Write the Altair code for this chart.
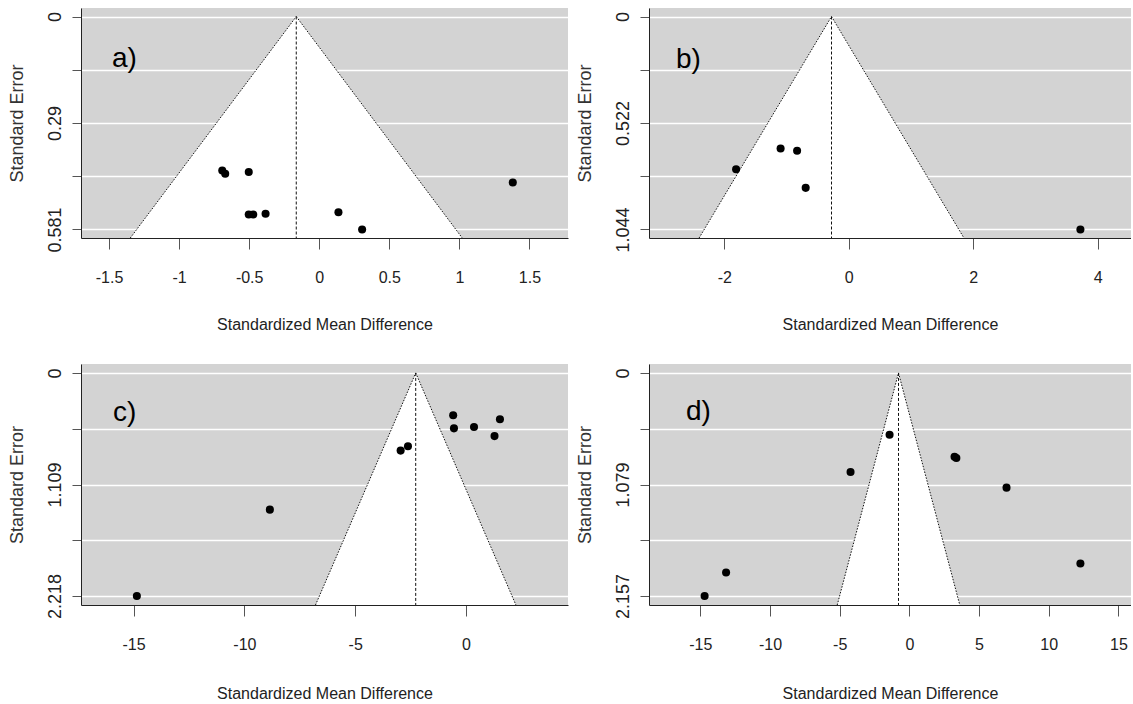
import altair as alt
import pandas as pd

FONT = "Liberation Sans"

# ---- data ----
tags = ["a)", "b)", "c)", "d)"]

a_smd = [-0.692, -0.671, -0.503, -0.503, -0.471, -0.383, 0.137, 0.306, 1.381]
a_se = [0.420, 0.429, 0.424, 0.540, 0.540, 0.538, 0.534, 0.581, 0.453]

b_smd = [-1.81, -1.095, -0.83, -0.692, 3.723]
b_se = [0.749, 0.647, 0.658, 0.840, 1.044]

c_smd = [-14.85, -8.85, -2.95, -2.62, -0.58, -0.545, 0.36, 1.285, 1.53]
c_se = [2.218, 1.359, 0.772, 0.728, 0.421, 0.551, 0.538, 0.628, 0.461]

d_smd = [-14.69, -13.15, -4.22, -1.42, 3.24, 3.37, 6.97, 12.27]
d_se = [2.157, 1.929, 0.958, 0.598, 0.81, 0.823, 1.109, 1.842]

pooled = [-0.164, -0.277, -2.27, -0.78]
se_max = [0.581, 1.044, 2.218, 2.157]
se_labels = [
    ["0", "", "0.29", "", "0.581"],
    ["0", "", "0.522", "", "1.044"],
    ["0", "", "1.109", "", "2.218"],
    ["0", "", "1.079", "", "2.157"],
]
x_domains = [[-1.70, 1.775], [-3.21, 4.536], [-17.37, 4.6], [-18.68, 15.9]]
x_ticks = [
    [-1.5, -1, -0.5, 0, 0.5, 1, 1.5],
    [-2, 0, 2, 4],
    [-15, -10, -5, 0],
    [-15, -10, -5, 0, 5, 10, 15],
]

# ---- layout ----
LEFT_W, RIGHT_W = 487, 482
ROW1_H, ROW2_H = 230, 241
widths = [LEFT_W, RIGHT_W, LEFT_W, RIGHT_W]
heights = [ROW1_H, ROW1_H, ROW2_H, ROW2_H]
title_ys = [91, 91, 93, 93]
tag_pos = [(31, 59), (27, 60), (32, 57), (37, 56)]

series = [(a_smd, a_se), (b_smd, b_se), (c_smd, c_se), (d_smd, d_se)]


def panel(i):
    smd, se = series[i]
    mu = pooled[i]
    smax = se_max[i]
    lo_d, hi_d = -0.04 * smax, 1.04 * smax
    w, h = widths[i], heights[i]

    xscale = alt.Scale(domain=x_domains[i], nice=False, zero=False)
    yscale = alt.Scale(domain=[lo_d, hi_d], nice=False, zero=False, reverse=True)

    xaxis = alt.Axis(
        values=x_ticks[i], labelExpr="'' + datum.value", grid=False,
        tickSize=11, tickColor="#555555", tickWidth=1,
        domainColor="#222222", domainWidth=1,
        labelFont=FONT, labelFontSize=16, labelColor="#222222",
        labelPadding=33, labelBaseline="alphabetic",
        labelFlush=False, labelOverlap=False,
        titleFont=FONT, titleFontSize=16, titleFontWeight="normal",
        titleColor="#222222", titleX=w / 2, titleY=title_ys[i],
        titleBaseline="alphabetic", titleAlign="center", zindex=1,
    )
    step = smax / 4
    labs = "[" + ",".join("'%s'" % s for s in se_labels[i]) + "]"
    yaxis = alt.Axis(
        values=[0, step, 2 * step, 3 * step, smax],
        labelExpr=labs + "[round(datum.value / %r)]" % step,
        grid=True, gridColor="white", gridWidth=1.5,
        tickSize=9, tickColor="#555555", tickWidth=1,
        domainColor="#222222", domainWidth=1,
        labelFont=FONT, labelFontSize=18, labelColor="#222222",
        labelAngle=270, labelAlign="center", labelBaseline="alphabetic",
        labelPadding=12, labelFlush=False, labelOverlap=False,
        titleFont=FONT, titleFontSize=18, titleFontWeight="normal",
        titleColor="#333333", titleAngle=270, titleX=-59, titleY=h / 2,
        titleBaseline="alphabetic", titleAlign="center", zindex=0,
    )
    xt = "Standardized Mean Difference"
    yt = "Standard Error"

    def X(f):
        return alt.X(f, type="quantitative", scale=xscale, axis=xaxis, title=xt)

    def Y(f):
        return alt.Y(f, type="quantitative", scale=yscale, axis=yaxis, title=yt)

    funnel = pd.DataFrame({
        "se": [0.0, hi_d],
        "lo": [mu, mu - 1.96 * hi_d],
        "hi": [mu, mu + 1.96 * hi_d],
    })
    centre = pd.DataFrame({"mu": [mu, mu], "se": [0.0, hi_d]})
    pts = pd.DataFrame({"smd": smd, "se": se})

    area = alt.Chart(funnel).mark_area(orient="horizontal", color="white", opacity=1).encode(
        x=X("lo"), x2="hi", y=Y("se"))
    left = alt.Chart(funnel).mark_line(color="#111111", strokeWidth=1, strokeDash=[1.5, 1.5]).encode(
        x=X("lo"), y=Y("se"))
    right = alt.Chart(funnel).mark_line(color="#111111", strokeWidth=1, strokeDash=[1.5, 1.5]).encode(
        x=X("hi"), y=Y("se"))
    mid = alt.Chart(centre).mark_line(color="#111111", strokeWidth=1, strokeDash=[3, 2]).encode(
        x=X("mu"), y=Y("se"))
    dots = alt.Chart(pts).mark_circle(size=65, color="black", opacity=1).encode(
        x=X("smd"), y=Y("se"))
    tx, ty = tag_pos[i]
    tag = alt.Chart(pd.DataFrame({"t": [tags[i]]})).mark_text(
        font=FONT, fontSize=28, color="black", align="left", baseline="alphabetic").encode(
        text="t:N", x=alt.value(tx), y=alt.value(ty))
    return alt.layer(area, left, right, mid, dots, tag).properties(width=w, height=h)


chart = alt.concat(
    panel(0), panel(1), panel(2), panel(3),
    columns=2, spacing={"row": 115, "column": 81}, bounds="flush", align="all",
).properties(
    padding={"left": 8, "top": 8, "right": 0, "bottom": 0},
    background="white",
).configure_view(fill="#D3D3D3", strokeWidth=0)

chart.save("out.html", embed_options={"renderer": "svg", "actions": False})
